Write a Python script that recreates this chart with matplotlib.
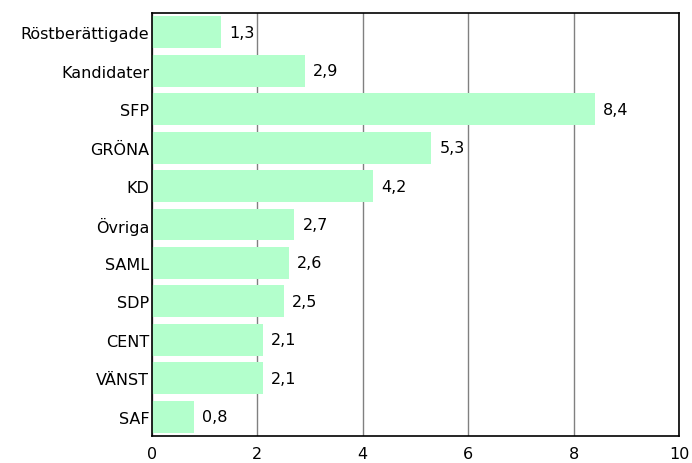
import matplotlib
matplotlib.use("Agg")
import matplotlib.pyplot as plt

categories = ["Röstberättigade", "Kandidater", "SFP", "GRÖNA", "KD", "Övriga",
              "SAML", "SDP", "CENT", "VÄNST", "SAF"]
values = [1.3, 2.9, 8.4, 5.3, 4.2, 2.7, 2.6, 2.5, 2.1, 2.1, 0.8]
xticks = [0, 2, 4, 6, 8, 10]

plt.rcParams['font.family'] = ['DejaVu Sans']

W, H = 692, 464
fig = plt.figure(figsize=(W / 100, H / 100), dpi=100)
left, right, top, bottom = 152, 679, 14, 437
ax = fig.add_axes([left / W, 1 - bottom / H, (right - left) / W, (bottom - top) / H])

fs = 11.5
n = len(categories)
ypos = list(range(n))
ax.barh(ypos, values, height=0.83, color="#b3ffcc", edgecolor="none", zorder=2)
ax.set_ylim(n - 0.5, -0.5)
ax.set_xlim(0, 10)
ax.set_xticks(xticks)
ax.set_xticklabels([str(t) for t in xticks], fontsize=fs)
ax.set_yticks(ypos)
ax.set_yticklabels(categories, fontsize=fs)
ax.tick_params(axis='both', length=0, colors="#000000")
ax.tick_params(axis='x', pad=7)
ax.tick_params(axis='y', pad=2)
ax.grid(axis='x', color="#808080", linewidth=1.0, zorder=1)
for s in ax.spines.values():
    s.set_color("#000000")
    s.set_linewidth(1.2)

for y, v in zip(ypos, values):
    ax.annotate(f"{v:.1f}".replace(".", ","), xy=(v, y), xytext=(6, 0),
                textcoords="offset points", va="center", ha="left", fontsize=fs, zorder=3)

fig.savefig("out.png", dpi=100)
